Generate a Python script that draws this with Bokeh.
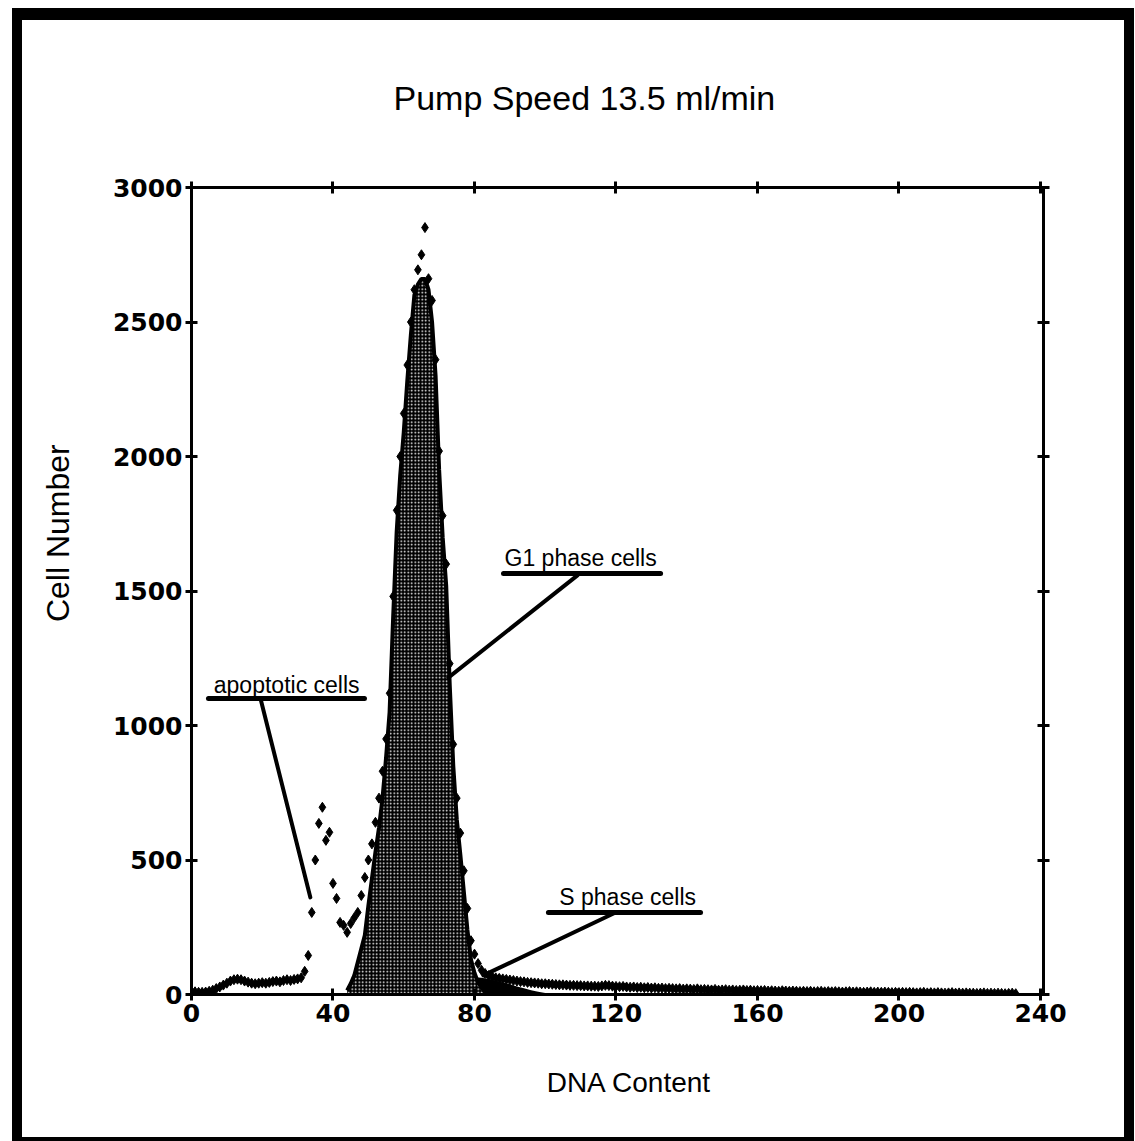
from bokeh.plotting import figure
from bokeh.models import Range1d, LinearAxis, FixedTicker
from bokeh.embed import file_html
from bokeh.resources import INLINE
from bokeh.core.properties import value

# ---------------- data ----------------
# total histogram, one value per channel starting at channel 0
total_counts = [
    12, 10, 8, 8, 9, 12, 16, 22, 28, 35,
    42, 50, 55, 57, 55, 50, 46, 42, 40, 42,
    44, 42, 45, 48, 50, 47, 52, 55, 52, 56,
    58, 62, 86, 145, 305, 500, 636, 696, 573, 603,
    413, 357, 268, 257, 231, 264, 285, 305, 368, 435,
    500, 560, 640, 730, 830, 950, 1120, 1480, 1800, 2000,
    2160, 2340, 2500, 2620, 2694, 2750, 2851, 2661, 2580, 2360,
    2020, 1780, 1600, 1230, 930, 730, 600, 460, 320, 200,
    150, 115, 90, 78, 70, 66, 62, 60, 58, 56,
    54, 52, 50, 48, 47, 45, 44, 43, 42, 40,
    40, 39, 38, 37, 36, 36, 35, 34, 34, 33,
    33, 32, 32, 31, 31, 30, 32, 34, 33, 31,
    30, 29, 30, 28, 27, 28, 26, 27, 25, 26,
    24, 25, 23, 24, 22, 23, 22, 21, 22, 20,
    21, 20, 19, 21, 18, 19, 18, 17, 19, 16,
    17, 18, 16, 17, 15, 16, 17, 15, 16, 14,
    15, 14, 15, 13, 14, 13, 12, 14, 13, 12,
    13, 12, 11, 12, 11, 12, 10, 11, 12, 10,
    11, 10, 11, 10, 9, 10, 11, 9, 10, 9,
    8, 9, 10, 8, 9, 8, 9, 8, 7, 8,
    7, 8, 7, 8, 7, 6, 7, 8, 6, 7,
    6, 7, 6, 5, 6, 7, 5, 6, 5, 6,
    5, 5, 4, 5, 6, 4, 5, 4, 5, 4,
    3, 4, 5, 3,
]
channels = list(range(len(total_counts)))

# G1 phase fit (filled peak), channels 44..84
g1_start = 44
g1_fit = [15, 40, 70, 120, 170, 220, 330, 430, 530, 620,
          730, 880, 1050, 1400, 1720, 1930, 2090, 2280, 2450, 2600,
          2640, 2660, 2660, 2620, 2500, 2300, 1950, 1700, 1520, 1150,
          850, 650, 520, 380, 240, 130, 80, 45, 25, 10, 0]
g1_channels = list(range(g1_start, g1_start + len(g1_fit)))

# S phase fit (low hump), channels 56..104 every 2
s_channels = list(range(56, 105, 2))
s_fit = [5, 15, 25, 35, 42, 50, 55, 60, 62, 64,
         65, 65, 64, 62, 58, 52, 45, 38, 30, 23,
         16, 10, 6, 3, 0]

x_ticks = [0, 40, 80, 120, 160, 200, 240]
y_ticks = [0, 500, 1000, 1500, 2000, 2500, 3000]

title_text = "Pump Speed 13.5 ml/min"
x_label = "DNA Content"
y_label = "Cell Number"

NBSP = "\u00a0"

# ---------------- figure ----------------
p = figure(width=1135, height=1141, output_backend="svg", toolbar_location=None,
           x_range=Range1d(0, 240.85), y_range=Range1d(0, 3000),
           min_border_left=191, min_border_right=92,
           min_border_top=187, min_border_bottom=147)
p.grid.visible = False
p.outline_line_color = None
p.background_fill_color = "white"
p.border_fill_color = None

# thick black frame around the whole picture (page background behind the canvas)
p.styles = {
    "background-image": ("linear-gradient(#000,#000), linear-gradient(#000,#000), "
                         "linear-gradient(#000,#000), linear-gradient(#000,#000)"),
    "background-position": "12px 8px, 12px 8px, 1124px 8px, 12px 1137px",
    "background-size": "1122px 12px, 10px 1133px, 10px 1133px, 1122px 4px",
    "background-repeat": "no-repeat",
    "background-color": "white",
}

# title
p.title.text = title_text
p.title.text_font = "Liberation Sans"
p.title.text_font_style = "normal"
p.title.text_font_size = "34px"
p.title.text_color = "black"
p.title.align = "left"
p.title.offset = 202
p.title.standoff = 130


def style_axis(ax, label_size="25px", standoff=3):
    ax.axis_line_width = 3
    ax.axis_line_color = "black"
    ax.major_tick_line_width = 3
    ax.major_tick_line_color = "black"
    ax.major_tick_in = 6
    ax.major_tick_out = 6
    ax.minor_tick_line_color = None
    ax.major_label_text_font = "DejaVu Sans"
    ax.major_label_text_font_style = "bold"
    ax.major_label_text_font_size = label_size
    ax.major_label_text_color = "black"
    ax.major_label_standoff = standoff


p.xaxis.ticker = FixedTicker(ticks=x_ticks)
p.yaxis.ticker = FixedTicker(ticks=y_ticks)
for ax in p.xaxis + p.yaxis:
    style_axis(ax)

p.xaxis.axis_label = NBSP * 3 + x_label
p.yaxis.axis_label = NBSP * 13 + y_label
for ax, size, so in ((p.xaxis[0], "28px", 42), (p.yaxis[0], "32px", 34)):
    ax.axis_label_text_font = "Liberation Sans"
    ax.axis_label_text_font_style = "normal"
    ax.axis_label_text_font_size = size
    ax.axis_label_text_color = "black"
    ax.axis_label_standoff = so

top_ax = LinearAxis(ticker=FixedTicker(ticks=x_ticks),
                    major_label_overrides={t: "" for t in x_ticks})
right_ax = LinearAxis(ticker=FixedTicker(ticks=y_ticks),
                      major_label_overrides={t: "" for t in y_ticks})
style_axis(top_ax, "1px", 0)
style_axis(right_ax, "1px", 0)
p.add_layout(top_ax, "above")
p.add_layout(right_ax, "right")

# ---------------- data marks ----------------
p.varea(x=s_channels, y1=[0] * len(s_fit), y2=s_fit, fill_color="black")
p.varea(x=g1_channels, y1=[0] * len(g1_fit), y2=g1_fit, fill_color="black",
        hatch_pattern="dot", hatch_color="white", hatch_scale=3.5, hatch_weight=1.0)
p.line(g1_channels, g1_fit, line_width=4, line_color="black")
p.scatter(channels, total_counts, marker="diamond", size=10,
          fill_color="black", line_color="black")

# ---------------- annotations ----------------
ann_font = value("Liberation Sans")
annotations = [
    # text, text x, text y, underline x0, x1, y, leader from (x,y) to (x,y)
    ("apoptotic cells", 26.9, 1152, 4.8, 48.9, 1100, 19.5, 1100, 33.6, 361),
    ("G1 phase cells", 110.0, 1621, 88.2, 132.6, 1565, 109.1, 1558, 72.6, 1178),
    ("S phase cells", 123.3, 364, 100.9, 143.9, 305, 119.3, 301, 82.5, 71),
]
for (txt, tx, ty, ux0, ux1, uy, lx0, ly0, lx1, ly1) in annotations:
    p.text(x=[tx], y=[ty], text=[txt], text_font=ann_font, text_font_size="23px",
           text_align="center", text_baseline="alphabetic", text_color="black")
    p.segment(x0=[ux0], y0=[uy], x1=[ux1], y1=[uy], line_width=5,
              line_color="black", line_cap="round")
    p.segment(x0=[lx0], y0=[ly0], x1=[lx1], y1=[ly1], line_width=4,
              line_color="black", line_cap="round")

open("out.html", "w").write(file_html(p, INLINE))
